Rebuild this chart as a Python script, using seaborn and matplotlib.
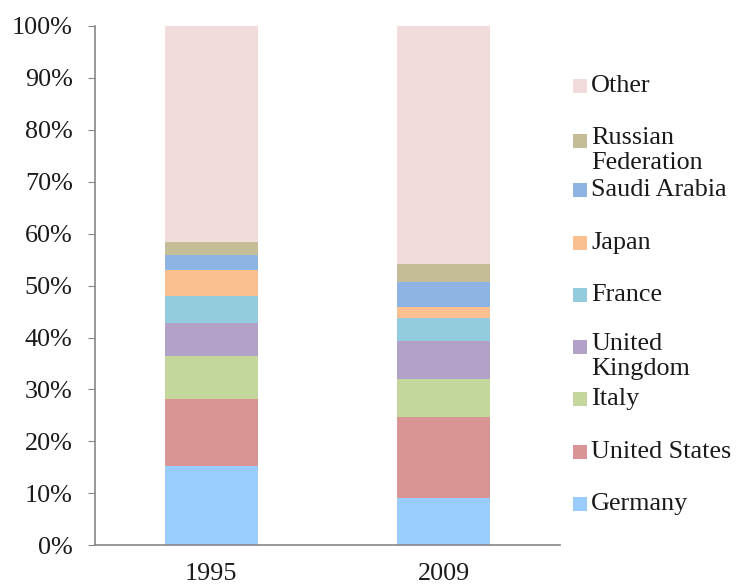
import numpy as np
import pandas as pd
import matplotlib
matplotlib.use("Agg")
import matplotlib.pyplot as plt
import seaborn as sns
from matplotlib.ticker import FixedLocator

years = ["1995", "2009"]
countries = ["Germany", "United States", "Italy", "United Kingdom", "France",
             "Japan", "Saudi Arabia", "Russian Federation", "Other"]
share_1995 = [15.2, 12.9, 8.3, 6.4, 5.2, 5.0, 2.9, 2.5, 41.6]
share_2009 = [9.1, 15.6, 7.4, 7.3, 4.3, 2.1, 4.9, 3.4, 45.9]
legend_labels = ["Germany", "United States", "Italy", "United\nKingdom", "France",
                 "Japan", "Saudi Arabia", "Russian\nFederation", "Other"]
colors = ["#99CCFF", "#D99594", "#C3D69B", "#B3A2C7", "#93CDDD",
          "#FAC090", "#8EB4E3", "#C4BD97", "#F2DCDB"]

df = pd.DataFrame({"1995": share_1995, "2009": share_2009}, index=countries)
cum = df.cumsum()

sns.set_style("white")
plt.rcParams["font.family"] = ["Liberation Serif", "DejaVu Serif"]
FS = 18.8

fig = plt.figure(figsize=(7.36, 5.85), dpi=100)
ax = fig.add_axes([0.129, 0.068, 0.632, 0.8876])

# stacked bars: draw cumulative totals from the top layer down
for i in range(len(countries) - 1, -1, -1):
    sns.barplot(x=years, y=cum.iloc[i].values, color=colors[i], width=0.4,
                saturation=1, edgecolor="none", linewidth=0, ax=ax)

ax.set_ylim(0, 100)
ax.set_xlim(-0.5, 1.5)
ax.set_yticks(np.arange(0, 101, 10))
ax.set_yticklabels([f"{v}%" for v in range(0, 101, 10)], fontsize=FS, color="#1a1a1a")
ax.set_xticks([0, 1])
ax.set_xticklabels(years, fontsize=FS, color="#1a1a1a")
ax.xaxis.set_minor_locator(FixedLocator([-0.5, 0.5, 1.5]))
ax.tick_params(axis="x", which="major", length=0, pad=13)
ax.tick_params(axis="x", which="minor", length=5, color="#868686", direction="out")
ax.tick_params(axis="y", length=5, color="#868686", direction="out", left=True, pad=11)
ax.set_xlabel("")
ax.set_ylabel("")
for s in ["top", "right"]:
    ax.spines[s].set_visible(False)
for s in ["left", "bottom"]:
    ax.spines[s].set_color("#868686")
    ax.spines[s].set_linewidth(1.2)

# legend drawn by hand so wrapped labels keep even spacing
W, H = 736, 585
y_centers = [504, 452, 399, 347, 295, 243, 190, 141, 86]
for lab, col, yc in zip(legend_labels, colors, y_centers):
    fig.patches.append(plt.Rectangle((573 / W, (H - yc - 7) / H), 14 / W, 14 / H,
                                     transform=fig.transFigure, facecolor=col,
                                     edgecolor="none"))
    if "\n" in lab:
        fig.text(591 / W, (H - yc + 14) / H, lab, fontsize=FS, va="top",
                 ha="left", color="#1a1a1a", linespacing=1.2)
    else:
        fig.text(591 / W, (H - yc) / H, lab, fontsize=FS, va="center",
                 ha="left", color="#1a1a1a")

fig.savefig("out.png", dpi=100)
